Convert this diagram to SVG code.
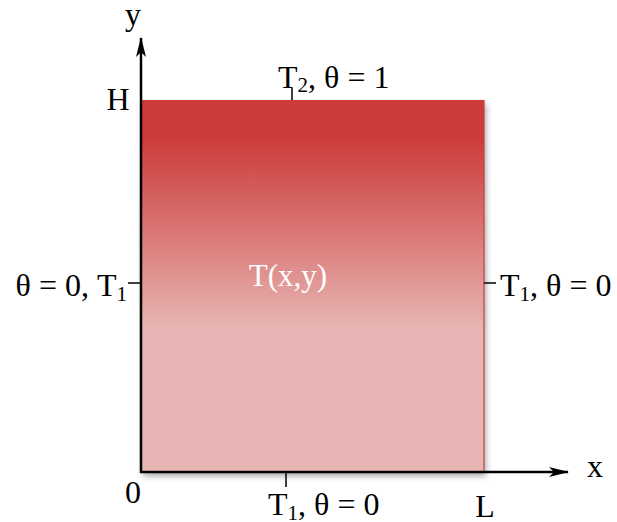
<svg xmlns="http://www.w3.org/2000/svg" width="617" height="522" viewBox="0 0 617 522">
<style>
text{font-family:"Liberation Serif","Times New Roman",serif;font-size:32px;fill:#000}
.sub{font-size:21px}
.ax{stroke:#000;stroke-width:2.5;fill:none}
.tick{stroke:#000;stroke-width:1.5}
</style>
<defs>
<linearGradient id="g" x1="0" y1="0" x2="0" y2="1">
<stop offset="0" stop-color="#CC3B39"/>
<stop offset="0.1" stop-color="#CC3B39"/>
<stop offset="0.62" stop-color="#E7B6B4"/>
<stop offset="1" stop-color="#E7B6B4"/>
</linearGradient>
<filter id="sh" x="-10%" y="-10%" width="125%" height="125%">
<feGaussianBlur in="SourceAlpha" stdDeviation="3"/>
<feOffset dx="2" dy="4"/>
<feComponentTransfer><feFuncA type="linear" slope="0.35"/></feComponentTransfer>
<feMerge><feMergeNode/><feMergeNode in="SourceGraphic"/></feMerge>
</filter>
<marker id="arr" viewBox="0 0 20 10" refX="19" refY="5" markerWidth="20" markerHeight="10" markerUnits="userSpaceOnUse" orient="auto">
<path d="M0,0 L20,5 L0,10 L5,5 Z" fill="#000"/>
</marker>
</defs>
<g id="domain">
<rect x="141" y="100" width="343" height="372" fill="url(#g)" filter="url(#sh)"/>
<line x1="484" y1="100" x2="484" y2="472" stroke="#C9403E" stroke-width="1.2"/>
<text x="288" y="286" text-anchor="middle" style="fill:#fff;font-size:31px">T(x,y)</text>
</g>
<g id="connectors">
<line class="ax" x1="141" y1="473" x2="141" y2="38" marker-end="url(#arr)"/>
<line class="ax" x1="140" y1="472" x2="568" y2="472" marker-end="url(#arr)"/>
<line class="tick" x1="292" y1="88" x2="292" y2="100"/>
<line class="tick" x1="286" y1="472" x2="286" y2="487"/>
<line class="tick" x1="128" y1="283" x2="141" y2="283"/>
<line class="tick" x1="484" y1="283" x2="496" y2="283"/>
</g>
<g id="labels">
<text x="133" y="25" text-anchor="middle">y</text>
<text x="118" y="110" text-anchor="middle">H</text>
<text x="595" y="477" text-anchor="middle">x</text>
<text x="133" y="503" text-anchor="middle">0</text>
<text x="485" y="517" text-anchor="middle">L</text>
<text x="278" y="88">T<tspan class="sub" dy="4">2</tspan><tspan dy="-4">, θ = 1</tspan></text>
<text x="268" y="515">T<tspan class="sub" dy="5">1</tspan><tspan dy="-5">, θ = 0</tspan></text>
<text x="127" y="296" text-anchor="end">θ = 0, T<tspan class="sub" dy="5">1</tspan></text>
<text x="500" y="296">T<tspan class="sub" dy="5">1</tspan><tspan dy="-5">, θ = 0</tspan></text>
</g>
</svg>
